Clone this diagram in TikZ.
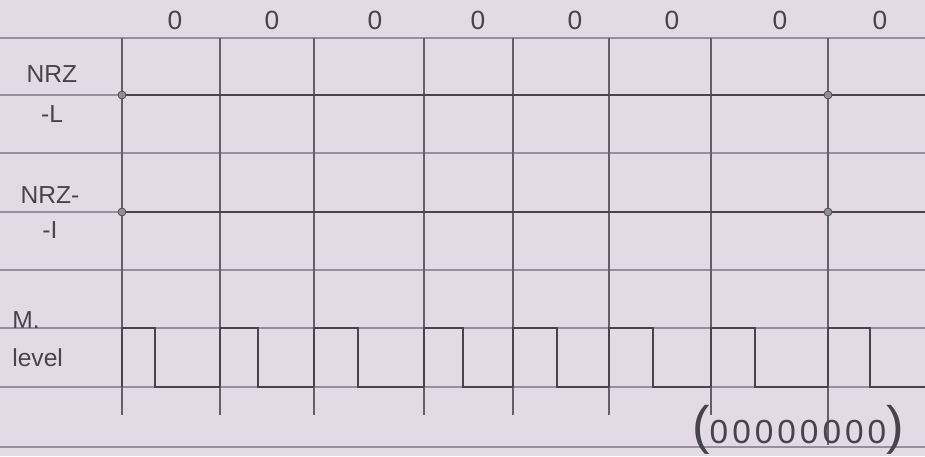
\documentclass[tikz,border=0pt]{standalone}
\usepackage{fontspec}
\setmainfont{Liberation Sans}
\usetikzlibrary{positioning}
\definecolor{paper}{RGB}{226,219,228}
\definecolor{pencil}{RGB}{72,68,76}
\definecolor{ruled}{RGB}{150,144,154}

\begin{document}
\begin{tikzpicture}[x=0.02cm, y=-0.02cm,
		ruleline/.style={draw=ruled, line width=0.6pt},
		gridline/.style={draw=pencil!85, line width=0.7pt},
		signal/.style={draw=pencil, line width=1.1pt},
		bitlabel/.style={font=\fontsize{15}{18}\selectfont, text=pencil},
		rowlabel/.style={font=\fontsize{14}{16}\selectfont, text=pencil, align=center, inner sep=0pt},
		dot/.style={circle, draw=pencil, fill=pencil!60, inner sep=1.6pt}
	]
	\fill[paper] (0,0) rectangle (925,456);
	\useasboundingbox (0,0) rectangle (925,456);
	% ruled lines of the page
	\foreach \y in {38,95,153,212,270,328,387,447}
		\draw[ruleline] (0,\y) -- (925,\y);
	% bit boundaries
	\foreach \x in {122,220,314,424,513,609,711}
		\draw[gridline] (\x,38) -- (\x,415);
	\draw[gridline] (828,38) -- (828,445);
	% data bits
	\foreach \x [count=\i] in {175,272,375,478,575,672,780,880}
		\node[bitlabel] (bit\i) at (\x,20) {0};
	% row labels
	\node[rowlabel] (nrzl) at (52,74) {NRZ};
	\node[rowlabel, below=0.45cm of nrzl] (nrzlsub) {-L};
	\node[rowlabel] (nrzi) at (50,195) {NRZ-};
	\node[rowlabel, below=0.35cm of nrzi] (nrzisub) {-I};
	\node[rowlabel] (man) at (26,320) {M.};
	\node[rowlabel, below=0.4cm of man.south west, anchor=north west] (mansub) {level};
	% NRZ-L
	\node[dot] (lstart) at (122,95) {};
	\node[dot] (lmark) at (828,95) {};
	\coordinate (lend) at (925,95);
	\draw[signal] (lstart) -- (lmark) -- (lend);
	% NRZ-I
	\node[dot] (istart) at (122,212) {};
	\node[dot] (imark) at (828,212) {};
	\coordinate (iend) at (925,212);
	\draw[signal] (istart) -- (imark) -- (iend);
	% Manchester, a 0 in every bit
	\foreach \a/\m/\b in {122/155/220,220/258/314,314/358/424,424/463/513,513/557/609,609/653/711,711/755/828,828/870/925}
		\draw[signal] (\a,387) -- (\a,328) -- (\m,328) -- (\m,387) -- (\b,387);
	% bit pattern
	\node[font=\fontsize{19}{22}\selectfont, text=pencil, inner sep=0pt] (pattern) at (798,430)
		{{\fontsize{30}{32}\selectfont(}{\addfontfeature{LetterSpace=12}00000000}{\fontsize{30}{32}\selectfont)}};
\end{tikzpicture}
\end{document}
